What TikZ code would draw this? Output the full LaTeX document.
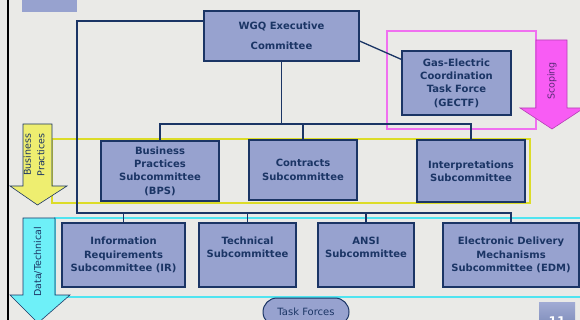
\documentclass[tikz,border=0pt]{standalone}
\usepackage{fontspec}
\setmainfont{DejaVu Sans}
\usetikzlibrary{calc}
\definecolor{bg}{HTML}{EAEAE7}
\definecolor{boxfill}{HTML}{97A2CF}
\definecolor{navy}{HTML}{1B3565}
\definecolor{ylw}{HTML}{EEEE70}
\definecolor{ylwline}{HTML}{DCDC28}
\definecolor{cyn}{HTML}{6EF0F8}
\definecolor{cynline}{HTML}{50E4F0}
\definecolor{mag}{HTML}{F85CF4}
\definecolor{magline}{HTML}{B540B5}
\definecolor{pinkline}{HTML}{F070F0}
\definecolor{scop}{HTML}{5A2A78}
\tikzset{
  box/.style={draw=navy, line width=1.1pt, fill=boxfill, text=navy,
    font=\bfseries\fontsize{10}{13.3}\selectfont, align=center, inner sep=0pt},
  conn/.style={draw=navy, line width=1.3pt},
  lbl/.style={text=navy, font=\fontsize{9.5}{13.5}\selectfont, align=center,
    rotate=90, inner sep=0pt},
  frame/.style={line width=1.2pt},
  arrowshape/.style={line width=0.6pt},
}
\begin{document}
\begin{tikzpicture}[x=1pt,y=-1pt]
\useasboundingbox (0,0) rectangle (580,320);
\clip (0,0) rectangle (580,320);
\fill[bg] (0,0) rectangle (580,320);
% left rule and top-left tab
\draw[black, line width=2.4pt] (8,0) -- (8,320);
\fill[boxfill] (22,0) rectangle (77,12);
% frames
\draw[frame, draw=ylwline] (52,139) rectangle (530,203);
\draw[frame, draw=cynline] (55,218) rectangle (581,297);
\draw[frame, draw=pinkline] (387,31) rectangle (536,129);
% boxes
\node[box, minimum width=155pt, minimum height=50pt] (WGQ) at (281.5,36) {WGQ Executive\\[6.7pt]Committee};
\node[box, minimum width=109pt, minimum height=64pt] (GECTF) at (456.5,83) {Gas-Electric\\Coordination\\Task Force\\(GECTF)};
\node[box, minimum width=118pt, minimum height=60pt] (BPS) at (160,171) {Business\\Practices\\Subcommittee\\(BPS)};
\node[box, minimum width=108pt, minimum height=60pt] (CON) at (303,170) {Contracts\\Subcommittee};
\node[box, minimum width=108pt, minimum height=62pt] (INT) at (471,171) {Interpretations\\Subcommittee};
\node[box, minimum width=123pt, minimum height=64pt] (IR) at (123.5,255) {Information\\Requirements\\Subcommittee (IR)};
\node[box, minimum width=97pt, minimum height=64pt] (TEC) at (247.5,255) {Technical\\Subcommittee\\[2pt]};
\node[box, minimum width=96pt, minimum height=64pt] (ANSI) at (366,255) {ANSI\\Subcommittee\\[2pt]};
\node[box, minimum width=136pt, minimum height=64pt] (EDM) at (511,255) {Electronic Delivery\\Mechanisms\\Subcommittee (EDM)};
% connectors
\coordinate (busA) at (0,124);
\coordinate (busB) at (77,213);
\draw[conn] (WGQ.south) -- (WGQ.south |- busA);
\draw[conn] (BPS.north) -- (BPS.north |- busA) -- (INT.north |- busA) -- (INT.north);
\draw[conn] (CON.north) -- (CON.north |- busA);
\draw[conn] ([yshift=15pt]WGQ.west) -| (busB) -| (EDM.north);
\draw[conn] (IR.north) -- (IR.north |- busB);
\draw[conn] (TEC.north) -- (TEC.north |- busB);
\draw[conn] (ANSI.north) -- (ANSI.north |- busB);
\draw[conn] ([yshift=-5pt]WGQ.east) -- ([yshift=-9pt]GECTF.north west);
% arrows
\draw[arrowshape, draw=navy, fill=ylw] (23,124) -- (52,124) -- (52,186) -- (67,186) -- (37.5,205) -- (10,186) -- (23,186) -- cycle;
\draw[arrowshape, draw=navy, fill=cyn] (23,218) -- (55,218) -- (55,295) -- (70,295) -- (38,323) -- (10,295) -- (23,295) -- cycle;
\draw[arrowshape, draw=magline, fill=mag] (536,40) -- (567,40) -- (567,108) -- (584,108) -- (552,129) -- (520,108) -- (536,108) -- cycle;
\node[lbl] (bpl) at (34,155) {Business\\Practices};
\node[lbl] (dtl) at (38,262) {Data/Technical};
\node[lbl, text=scop] (scl) at (552,81) {Scoping};
% task forces
\node[draw=navy, line width=1pt, fill=boxfill, rounded corners=14pt, minimum width=86pt,
  minimum height=28pt, text=navy, font=\fontsize{10}{12}\selectfont, inner sep=0pt] (TF) at (306,312) {Task Forces};
% page number tab
\shade[top color=boxfill!90!white, bottom color=boxfill!80!navy] (539,302) rectangle (575,326);
\node[text=white, font=\bfseries\fontsize{12}{12}\selectfont, anchor=north, inner sep=0pt] (pg) at (557,317) {11};
\end{tikzpicture}
\end{document}
